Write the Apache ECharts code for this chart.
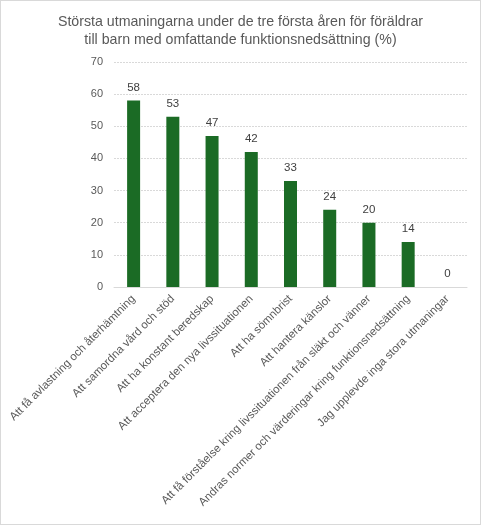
<!DOCTYPE html>
<html>
<head>
<meta charset="utf-8">
<script src="https://cdn.jsdelivr.net/npm/echarts@6/dist/echarts.min.js"></script>
<style>
html,body{margin:0;padding:0;background:#fff;}
#wrap{position:absolute;left:0;top:0;width:479px;height:523px;border:1px solid #d9d9d9;}
#chart{width:479px;height:523px;}
</style>
</head>
<body>
<div id="wrap"><div id="chart"></div></div>
<script>
const titleText = "Största utmaningarna under de tre första åren för föräldrar\ntill barn med omfattande funktionsnedsättning (%)";
const categories = [
  "Att få avlastning och återhämtning",
  "Att samordna vård och stöd",
  "Att ha konstant beredskap",
  "Att acceptera den nya livssituationen",
  "Att ha sömnbrist",
  "Att hantera känslor",
  "Att få förståelse kring livssituationen från släkt och vänner",
  "Andras normer och värderingar kring funktionsnedsättning",
  "Jag upplevde inga stora utmaningar"
];
const values = [58, 53, 47, 42, 33, 24, 20, 14, 0];
const yTicks = { min: 0, max: 70, interval: 10 };

const chart = echarts.init(document.getElementById('chart'));
chart.setOption({
  animation: false,
  textStyle: { fontFamily: 'Liberation Sans, Arial, sans-serif' },
  title: {
    text: titleText,
    left: 'center',
    top: 7,
    textStyle: { fontSize: 14.2, fontWeight: 'normal', color: '#595959', lineHeight: 18, fontFamily: 'Liberation Sans, Arial, sans-serif' }
  },
  grid: { left: 113, right: 13, top: 61, bottom: 237, containLabel: false },
  xAxis: {
    type: 'category',
    data: categories,
    axisLine: { show: true, lineStyle: { color: '#d9d9d9' } },
    axisTick: { show: false },
    axisLabel: { interval: 0, rotate: 45, fontSize: 11.4, color: '#595959', margin: 10 }
  },
  yAxis: {
    type: 'value',
    min: yTicks.min, max: yTicks.max, interval: yTicks.interval,
    axisLine: { show: false },
    axisTick: { show: false },
    axisLabel: { fontSize: 11, color: '#595959', margin: 11 },
    splitLine: { lineStyle: { color: '#d9d9d9', type: [2, 1] } }
  },
  series: [{
    type: 'bar',
    data: values,
    barWidth: 13,
    itemStyle: { color: '#1b6b25' },
    label: { show: true, position: 'top', distance: 7, fontSize: 11.5, color: '#404040' }
  }]
});
</script>
</body>
</html>
